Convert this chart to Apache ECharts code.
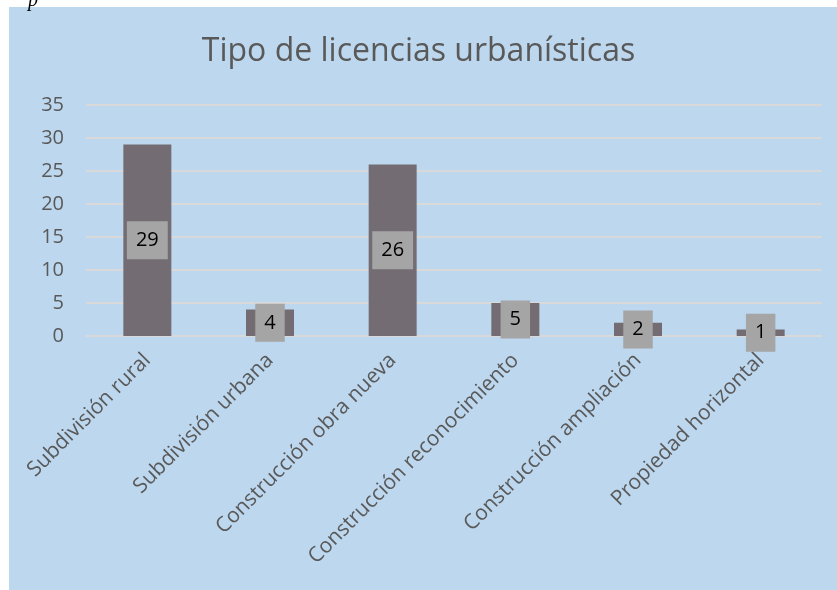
<html>
<head>
    <meta charset="utf-8">
    <title>Tipo de licencias urbanísticas</title>
    <script src="https://cdn.jsdelivr.net/npm/echarts@6/dist/echarts.min.js"></script>
    <style>
        body { margin: 0; background: #fff; }
        #main { width: 837px; height: 590px; }
    </style>
</head>
<body>
    <div id="main"></div>
    <script type="text/javascript">
        // datos
        var categorias = ['Subdivisión rural', 'Subdivisión urbana', 'Construcción obra nueva',
                          'Construcción reconocimiento', 'Construcción ampliación', 'Propiedad horizontal'];
        var valores = [29, 4, 26, 5, 2, 1];
        var ejeY = { min: 0, max: 35, paso: 5 };

        var fuente = '"Open Sans", "Noto Sans", sans-serif';
        var myChart = echarts.init(document.getElementById('main'));
        var option = {
            backgroundColor: '#ffffff',
            textStyle: { fontFamily: fuente },
            graphic: [
                { type: 'rect', z: -10, shape: { x: 9, y: 7, width: 828, height: 583 }, style: { fill: '#BDD7EE' } },
                { type: 'text', left: 28, top: -9, style: { text: 'p', font: 'italic 20px "Liberation Serif"', fill: '#000' } }
            ],
            title: {
                text: 'Tipo de licencias urbanísticas',
                left: 'center',
                top: 31,
                textStyle: { fontSize: 32, fontWeight: 'normal', color: '#595959', fontFamily: fuente }
            },
            grid: { left: 86, right: 15, top: 105, bottom: 254, containLabel: false },
            xAxis: [{
                type: 'category',
                data: categorias,
                axisLine: { show: false },
                axisTick: { show: false },
                axisLabel: { rotate: 45, margin: 21, fontSize: 21, color: '#595959', interval: 0 }
            }],
            yAxis: [{
                type: 'value',
                min: ejeY.min,
                max: ejeY.max,
                interval: ejeY.paso,
                axisLine: { show: false },
                axisTick: { show: false },
                axisLabel: { fontSize: 20, color: '#595959', margin: 22 },
                splitLine: { lineStyle: { color: '#D9D9D9', width: 2 } }
            }],
            series: [{
                name: 'Licencias',
                type: 'bar',
                data: valores,
                barWidth: 48,
                itemStyle: { color: '#736D73' },
                label: {
                    show: true,
                    position: 'inside',
                    color: '#000',
                    fontSize: 20,
                    lineHeight: 22,
                    backgroundColor: '#A5A5A5',
                    padding: [8, 9]
                }
            }]
        };
        myChart.setOption(option);
    </script>
</body>
</html>
